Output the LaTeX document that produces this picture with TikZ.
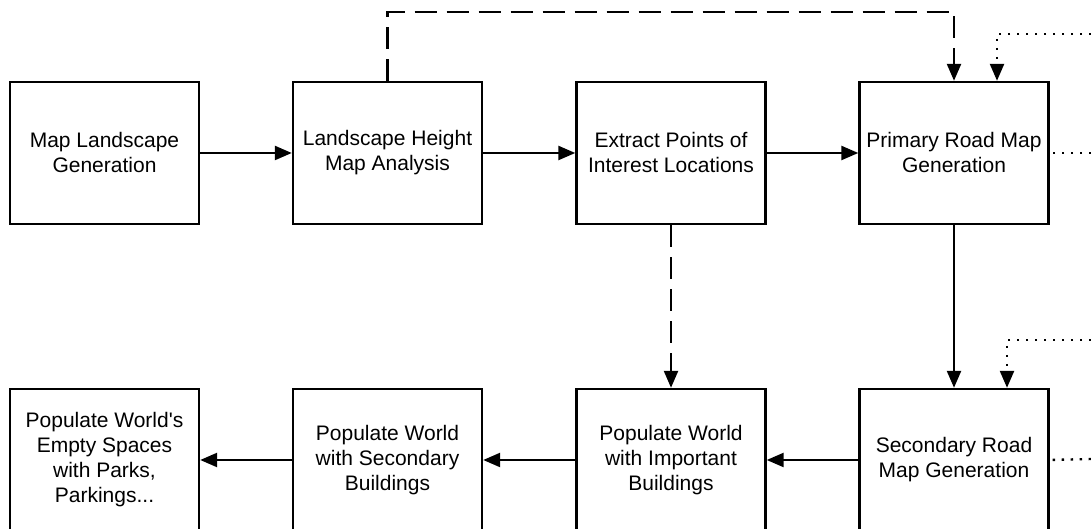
\documentclass[tikz,border=0pt]{standalone}
\usepackage{fontspec}
\setmainfont{Liberation Sans}
\usetikzlibrary{arrows.meta}
\tikzset{
stage/.style={draw,line width=2.4pt,minimum width=189pt,minimum height=142pt,inner sep=0pt,align=center,font=\fontsize{21}{25}\selectfont},
dashline/.style={dash pattern=on 22pt off 10pt},
dotline/.style={dash pattern=on 2.4pt off 6.6pt}
}
\begin{document}
\begin{tikzpicture}[x=1pt,y=1pt,line width=2.4pt,>={Triangle[length=17pt,width=14pt]}]
\useasboundingbox (0,0) rectangle (1091,529);
\clip (0,0) rectangle (1091,529);
\node[stage] (A) at (104.5,376) {Map Landscape\\Generation};
\node[stage] (B) at (387.5,376) {Landscape Height\\Map Analysis};
\node[stage] (C) at (671,376) {Extract Points of\\Interest Locations};
\node[stage] (D) at (954,376) {Primary Road Map\\Generation};
\node[stage] (E) at (104.5,69) {Populate World{\textquotesingle}s\\Empty Spaces\\with Parks,\\Parkings...};
\node[stage] (F) at (387.5,69) {Populate World\\with Secondary\\Buildings};
\node[stage] (G) at (671,69) {Populate World\\with Important\\Buildings};
\node[stage] (H) at (954,69) {Secondary Road\\Map Generation};
\coordinate (P) at (1091,495);
\coordinate (Q) at (1091,189);
\coordinate (R) at (1091,376);
\coordinate (S) at (1091,70);
\path[->]
(A) edge (B)
(B) edge (C)
(C) edge (D)
(D) edge (H)
(H) edge (G)
(G) edge (F)
(F) edge (E);
\draw[->,dashline] (C) -- (G);
\draw[->,dashline] (B.north) -- ++(0,69) -| (D.north);
\draw[->,dotline] (P) -| ([xshift=43pt]D.north);
\draw[->,dotline] (Q) -| ([xshift=53pt]H.north);
\draw[dotline] (R) -- (D.east);
\draw[dotline] (S) -- (H.east);
\end{tikzpicture}
\end{document}
